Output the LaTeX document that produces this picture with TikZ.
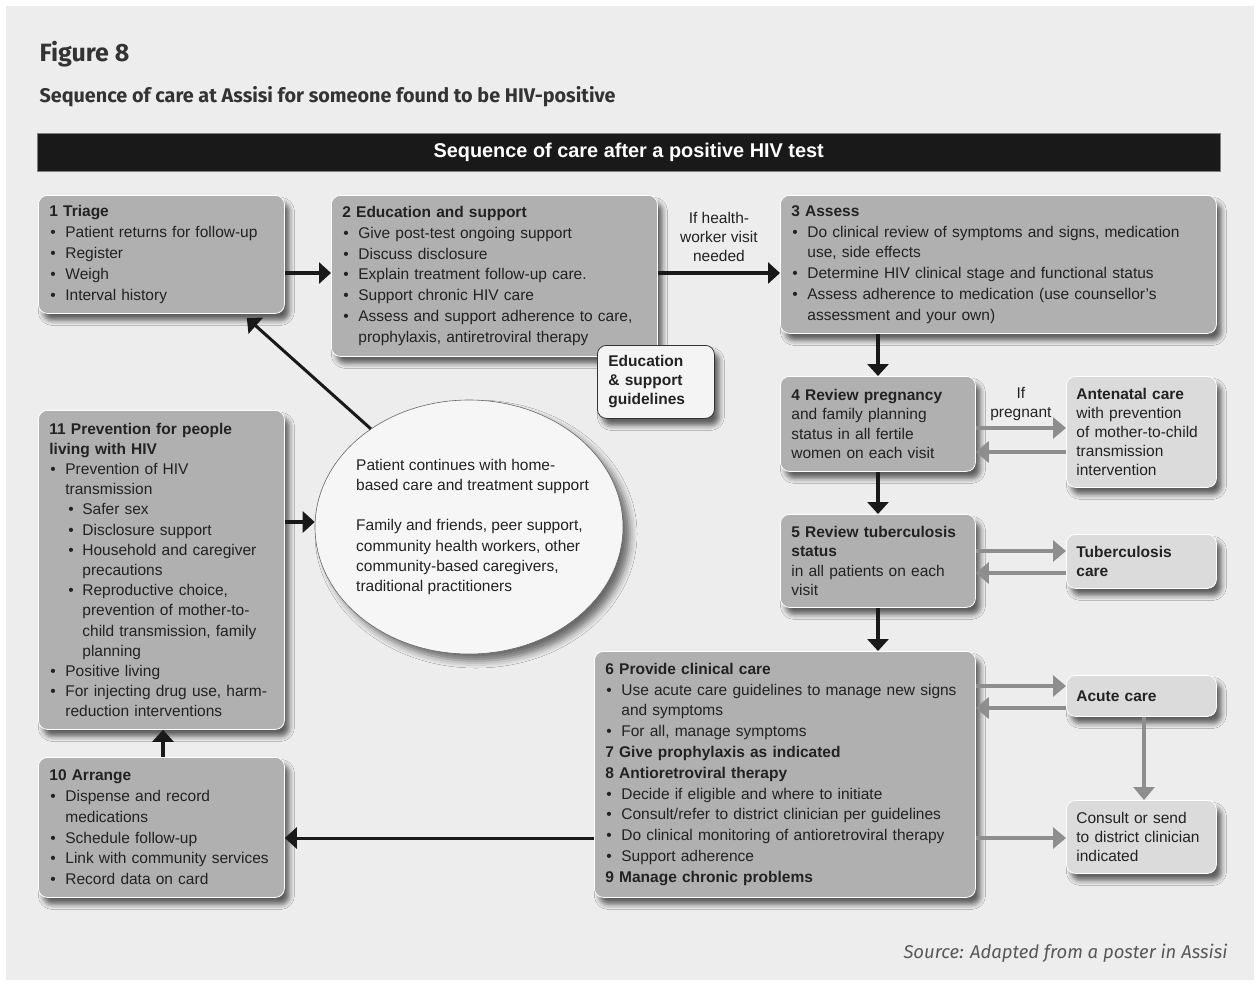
\documentclass[tikz,border=0pt]{standalone}
\usepackage{fontspec}
\setmainfont{Liberation Sans}
\newfontfamily\headfont{Fira Sans}
\usetikzlibrary{shapes.geometric,arrows.meta,shadows.blur}

\definecolor{bgGray}{HTML}{EDEDED}
\definecolor{boxGray}{HTML}{B0B0B0}
\definecolor{lightBox}{HTML}{DBDBDB}
\definecolor{inkGray}{HTML}{222222}
\definecolor{arrGray}{HTML}{8E8E8E}
\definecolor{headInk}{HTML}{333333}

\newcommand\bl[1]{\par\hangindent=16pt\hangafter=1\noindent\hbox to 16pt{\hspace{1pt}\textbullet\hfil}#1\par}
\newcommand\sbl[1]{\par\hangindent=33pt\hangafter=1\noindent\hbox to 33pt{\hspace{19pt}\textbullet\hfil}#1\par}

\tikzset{
  careBox/.style={draw=white, line width=0.8pt, fill=boxGray, rounded corners=9pt, anchor=north west,
    inner xsep=11pt, inner ysep=6pt, align=left, text=inkGray, font=\fontsize{15.5}{20.8}\selectfont,
    blur shadow={shadow xshift=5pt, shadow yshift=-7pt, shadow blur radius=5pt, shadow opacity=60}},
  sideBox/.style={careBox, fill=lightBox, inner xsep=10pt, font=\fontsize{15.5}{19}\selectfont},
  blackArr/.style={line width=4pt, draw=black!90, -{Triangle[length=12pt,width=21pt]}},
  grayArr/.style={line width=4pt, draw=arrGray, -{Triangle[length=13pt,width=21pt]}},
}

\begin{document}
\begin{tikzpicture}[x=1pt,y=-1pt]
\useasboundingbox (0,0) rectangle (1260,985);
\fill[white] (0,0) rectangle (1260,985);
\fill[bgGray] (6,6) rectangle (1254,980);

\node[anchor=base west, text=headInk, font=\headfont\bfseries\fontsize{25}{30}\selectfont] (fig) at (36,61) {Figure 8};
\node[anchor=base west, text=headInk, font=\headfont\bfseries\fontsize{19.8}{23}\selectfont] (sub) at (36,102) {Sequence of care at Assisi for someone found to be HIV-positive};

\node[fill=black!90, draw=gray, anchor=north west, minimum width=1183pt, minimum height=38pt, text=white,
  font=\bfseries\fontsize{19.9}{23}\selectfont] (bar) at (37,133) {Sequence of care after a positive HIV test};

% boxes
\node[careBox, text width=224pt, minimum height=118pt] (triage) at (38,195) {\textbf{1 Triage}
  \bl{Patient returns for follow-up}\bl{Register}\bl{Weigh}\bl{Interval history}};
\node[careBox, text width=304pt, minimum height=161pt] (edu) at (331,195) {\textbf{2 Education and support}
  \bl{Give post-test ongoing support}\bl{Discuss disclosure}\bl{Explain treatment follow-up care.}
  \bl{Support chronic HIV care}\bl{Assess and support adherence to care,\newline prophylaxis, antiretroviral therapy}};
\node[careBox, fill=bgGray!60!white, draw=black!80, text width=95pt, minimum height=73pt, font=\bfseries\fontsize{15.5}{19}\selectfont] (guide) at (597,345)
  {Education\\\& support\\guidelines};
\node[careBox, text width=414pt, minimum height=138pt] (assess) at (780,195) {\textbf{3 Assess}
  \bl{Do clinical review of symptoms and signs, medication\newline use, side effects}
  \bl{Determine HIV clinical stage and functional status}
  \bl{Assess adherence to medication (use counsellor’s\newline assessment and your own)}};
\node[careBox, text width=173pt, minimum height=95pt, font=\fontsize{15.5}{19.2}\selectfont] (preg) at (780,376)
  {\textbf{4 Review pregnancy}\\and family planning\\status in all fertile\\women on each visit};
\node[sideBox, text width=130pt, minimum height=111pt] (ante) at (1066,376)
  {\textbf{Antenatal care}\\with prevention\\of mother-to-child\\transmission\\intervention};
\node[careBox, text width=173pt, minimum height=93pt, font=\fontsize{15.5}{19.2}\selectfont] (tb) at (780,514)
  {\textbf{5 Review tuberculosis}\\\textbf{status}\\in all patients on each\\visit};
\node[sideBox, text width=130pt, minimum height=54pt] (tbcare) at (1066,534) {\textbf{Tuberculosis}\\\textbf{care}};
\node[careBox, text width=359pt, minimum height=246pt] (clin) at (594,651) {\textbf{6 Provide clinical care}
  \bl{Use acute care guidelines to manage new signs\newline and symptoms}\bl{For all, manage symptoms}
  \noindent\textbf{7 Give prophylaxis as indicated}\par\noindent\textbf{8 Antioretroviral therapy}
  \bl{Decide if eligible and where to initiate}\bl{Consult/refer to district clinician per guidelines}
  \bl{Do clinical monitoring of antioretroviral therapy}\bl{Support adherence}
  \noindent\textbf{9 Manage chronic problems}};
\node[sideBox, text width=130pt, minimum height=41pt] (acute) at (1066,675) {\textbf{Acute care}};
\node[sideBox, text width=130pt, minimum height=73pt] (consult) at (1066,800)
  {Consult or send\\to district clinician\\indicated};
\node[careBox, text width=224pt, minimum height=319pt, font=\fontsize{15.5}{20.2}\selectfont] (prev) at (38,410)
  {\textbf{11 Prevention for people}\\\textbf{living with HIV}
  \bl{Prevention of HIV\newline transmission}\sbl{Safer sex}\sbl{Disclosure support}
  \sbl{Household and caregiver\newline precautions}\sbl{Reproductive choice,\newline prevention of mother-to-\newline child transmission, family\newline planning}
  \bl{Positive living}\bl{For injecting drug use, harm-\newline reduction interventions}};
\node[careBox, text width=224pt, minimum height=140pt] (arrange) at (38,757) {\textbf{10 Arrange}
  \bl{Dispense and record\newline medications}\bl{Schedule follow-up}\bl{Link with community services}\bl{Record data on card}};
\node[ellipse, draw=black!60, line width=0.6pt, fill=bgGray!50!white, minimum width=308pt, minimum height=254pt,
  blur shadow={shadow xshift=7pt, shadow yshift=-7pt, shadow blur radius=7pt, shadow opacity=55}] (home) at (469,527) {};
\node[anchor=west, inner sep=0pt, align=left, text=inkGray, font=\fontsize{15.5}{20.2}\selectfont] (homeText) at (356,527)
  {Patient continues with home-\\based care and treatment support\\[20pt]Family and friends, peer support,\\community health workers, other\\community-based caregivers,\\traditional practitioners};

% flow
\draw[blackArr] (triage.east |- 0,273) -- (edu.west |- 0,273);
\draw[blackArr, line width=3.5pt] (edu.east |- 0,273) -- node[above=6pt, align=center, text=inkGray, font=\fontsize{15.5}{19}\selectfont] (visit) {If health-\\worker visit\\needed} (assess.west |- 0,273);
\draw[blackArr] (assess.south -| 878,0) -- (preg.north -| 878,0);
\draw[blackArr] (preg.south -| 878,0) -- (tb.north -| 878,0);
\draw[blackArr] (tb.south -| 878,0) -- (clin.north -| 878,0);
\draw[grayArr] (preg.east |- 0,428) -- node[above=2pt, align=center, text=inkGray, font=\fontsize{15.5}{19}\selectfont] (ifpreg) {If\\pregnant} (ante.west |- 0,428);
\draw[grayArr] (ante.west |- 0,452) -- (preg.east |- 0,452);
\draw[grayArr] (tb.east |- 0,551) -- (tbcare.west |- 0,551);
\draw[grayArr] (tbcare.west |- 0,573) -- (tb.east |- 0,573);
\draw[grayArr] (clin.east |- 0,686) -- (acute.west |- 0,686);
\draw[grayArr] (acute.west |- 0,708) -- (clin.east |- 0,708);
\draw[grayArr] (acute.south -| 1144,0) -- (consult.north -| 1144,0);
\draw[grayArr] (clin.east |- 0,838) -- (consult.west |- 0,838);
\draw[blackArr, line width=3pt] (clin.west |- 0,838) -- (arrange.east |- 0,838);
\draw[blackArr] (arrange.north -| 163,0) -- (prev.south -| 163,0);
\draw[blackArr] (prev.east |- 0,522) -- (home.west |- 0,522);
\draw[blackArr, line width=3pt] (home.135) -- ([xshift=-38pt,yshift=-4pt]triage.south east);

\node[anchor=base east, text=black!65, font=\headfont\itshape\fontsize{18.5}{22}\selectfont] (src) at (1231,958)
  {Source: Adapted from a poster in Assisi};
\end{tikzpicture}
\end{document}
